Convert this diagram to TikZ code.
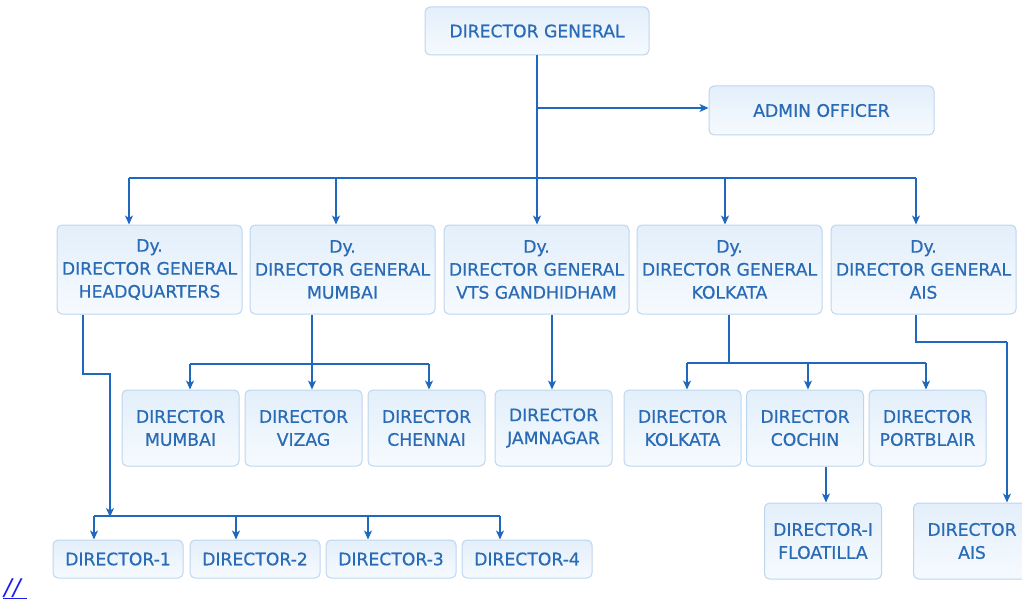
\documentclass[tikz,border=0pt]{standalone}
\usepackage{fontspec}
\setmainfont{DejaVu Sans}
\newfontfamily\boxfont[FakeBold=0.6]{DejaVu Sans}
\usetikzlibrary{arrows.meta}
\definecolor{txt}{HTML}{2A6BB6}
\definecolor{ln}{HTML}{1F68BE}
\definecolor{bd}{HTML}{BDD6EE}
\definecolor{ftop}{HTML}{E3EFFB}
\definecolor{fbot}{HTML}{F6FAFE}
\definecolor{lnk}{HTML}{1A1AEE}
\tikzset{
  box/.style={draw=bd, line width=1pt, rounded corners=5pt, top color=ftop, bottom color=fbot,
    text=txt, align=center, inner sep=0pt, font=\boxfont\fontsize{17.2}{23}\selectfont},
  big/.style={box, minimum width=185pt, minimum height=89pt},
  mid/.style={box, minimum width=117pt, minimum height=76pt},
  small/.style={box, minimum width=130pt, minimum height=38pt},
  top/.style={box, minimum width=224pt, minimum height=48pt},
  conn/.style={draw=ln, line width=1.4pt},
  arr/.style={conn, -{Stealth[length=9pt,width=8pt,inset=2.5pt]}},
}
\begin{document}
\begin{tikzpicture}[x=1pt,y=-1pt]
\useasboundingbox (0,0) rectangle (1022,607);
\clip (0,0) rectangle (1022,607);
% top
\node[top] (dg) at (537,31) {DIRECTOR GENERAL};
\node[top, minimum width=225pt, minimum height=49pt] (admin) at (821.5,110.5) {ADMIN OFFICER};
% row 2
\node[big] (hq) at (149.5,269.5) {Dy.\\DIRECTOR GENERAL\\HEADQUARTERS};
\node[big] (mum) at (342.5,269.5) {Dy.\\DIRECTOR GENERAL\\MUMBAI};
\node[big] (vts) at (536.5,269.5) {Dy.\\DIRECTOR GENERAL\\VTS GANDHIDHAM};
\node[big] (kol) at (729.5,269.5) {Dy.\\DIRECTOR GENERAL\\KOLKATA};
\node[big] (ais) at (923.5,269.5) {Dy.\\DIRECTOR GENERAL\\AIS};
% row 3
\node[mid] (dmum) at (180.5,428) {DIRECTOR\\MUMBAI};
\node[mid] (dviz) at (303.5,428) {DIRECTOR\\VIZAG};
\node[mid] (dche) at (426.5,428) {DIRECTOR\\CHENNAI};
\node[mid] (djam) at (553.5,428) {DIRECTOR\\JAMNAGAR};
\node[mid] (dkol) at (682.5,428) {DIRECTOR\\KOLKATA};
\node[mid] (dcoc) at (805,428) {DIRECTOR\\COCHIN};
\node[mid] (dpor) at (927.5,428) {DIRECTOR\\PORTBLAIR};
% row 4
\node[small] (d1) at (118,559) {DIRECTOR-1};
\node[small] (d2) at (255,559) {DIRECTOR-2};
\node[small] (d3) at (391,559) {DIRECTOR-3};
\node[small] (d4) at (527,559) {DIRECTOR-4};
\node[mid] (dflo) at (823,541) {DIRECTOR-I\\FLOATILLA};
\node[mid] (dais) at (972,541) {DIRECTOR\\AIS};
% link
\node[text=lnk, font=\fontsize{23}{24}\selectfont, inner sep=0pt, anchor=base west] (link) at (3,595) {\underline{\kern1pt\itshape/\kern1pt/\kern6pt}};
% connectors: DG
\coordinate (jA) at (537,108);
\coordinate (b1) at (129,178);
\coordinate (b2) at (336,178);
\coordinate (b4) at (725,178);
\coordinate (b5) at (916,178);
\draw[arr] (dg.south) -- (dg.south |- vts.north);
\draw[arr] (jA) -- (admin.west |- jA);
\draw[conn] (b1) -- (b5);
\draw[arr] (b1) -- (b1 |- hq.north);
\draw[arr] (b2) -- (b2 |- mum.north);
\draw[arr] (b4) -- (b4 |- kol.north);
\draw[arr] (b5) -- (b5 |- ais.north);
% HQ to directors
\coordinate (h0) at (83,314);
\coordinate (h1) at (83,374);
\coordinate (h2) at (110,374);
\coordinate (h3) at (110,516);
\coordinate (c1) at (94,516);
\coordinate (c2) at (236,516);
\coordinate (c3) at (368,516);
\coordinate (c4) at (500,516);
\draw[conn] (h0 |- hq.south) -- (h1) -- (h2) -- (h3);
\draw[arr] (h2) -- ([yshift=-1pt]h3);
\draw[conn] (c1) -- (c4);
\draw[arr] (c1) -- (c1 |- d1.north);
\draw[arr] (c2) -- (c2 |- d2.north);
\draw[arr] (c3) -- (c3 |- d3.north);
\draw[arr] (c4) -- (c4 |- d4.north);
% Mumbai
\coordinate (m0) at (312,364);
\coordinate (m1) at (190,364);
\coordinate (m3) at (429,364);
\draw[conn] (m0 |- mum.south) -- (m0);
\draw[conn] (m1) -- (m3);
\draw[arr] (m1) -- (m1 |- dmum.north);
\draw[arr] (m0) -- (m0 |- dviz.north);
\draw[arr] (m3) -- (m3 |- dche.north);
% VTS
\coordinate (v0) at (552,314);
\draw[arr] (v0 |- vts.south) -- (v0 |- djam.north);
% Kolkata
\coordinate (k0) at (729,363);
\coordinate (k1) at (687,363);
\coordinate (k2) at (808,363);
\coordinate (k3) at (926,363);
\draw[conn] (k0 |- kol.south) -- (k0);
\draw[conn] (k1) -- (k3);
\draw[arr] (k1) -- (k1 |- dkol.north);
\draw[arr] (k2) -- (k2 |- dcoc.north);
\draw[arr] (k3) -- (k3 |- dpor.north);
% Cochin
\coordinate (q0) at (826,465);
\draw[arr] (q0 |- dcoc.south) -- (q0 |- dflo.north);
% AIS
\coordinate (a0) at (916,342);
\coordinate (a1) at (1007,342);
\draw[conn] (a0 |- ais.south) -- (a0) -- (a1);
\draw[arr] (a1) -- (a1 |- dais.north);
\end{tikzpicture}
\end{document}
